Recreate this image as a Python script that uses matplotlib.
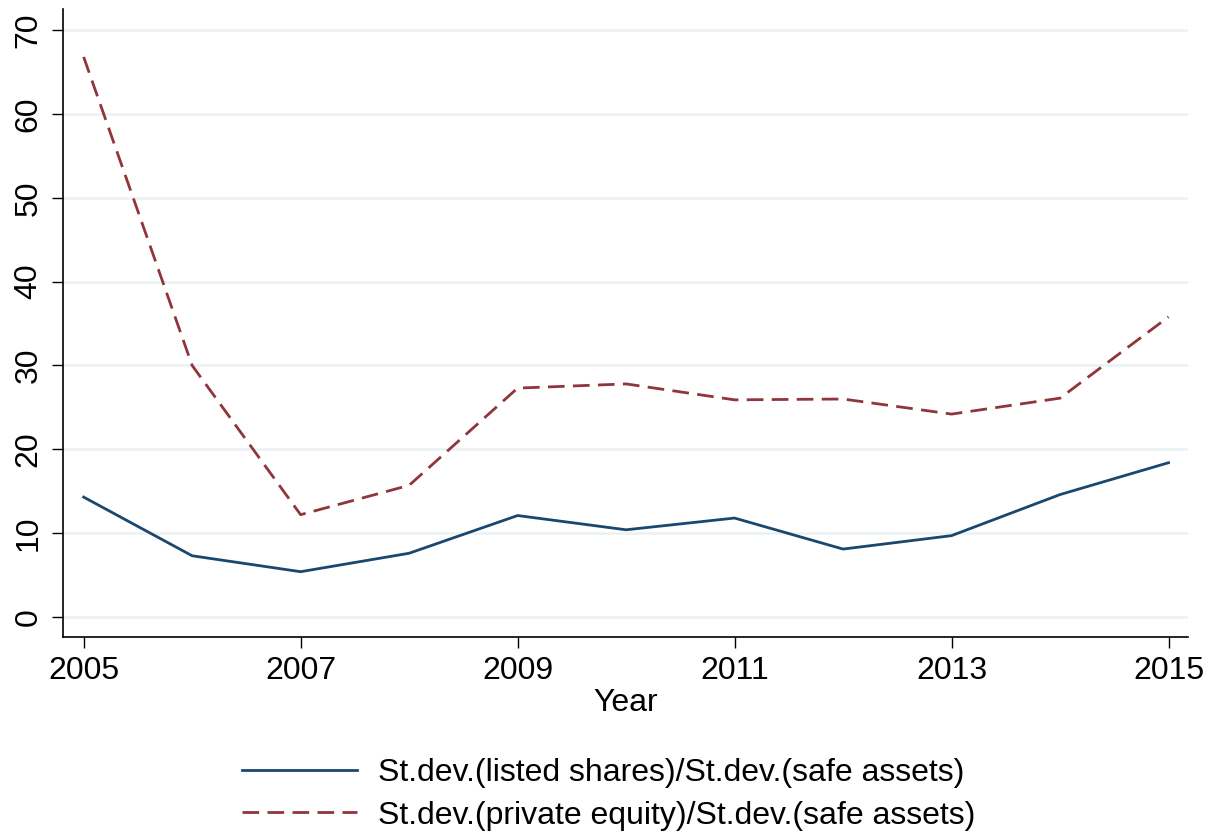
import matplotlib

matplotlib.use("Agg")

import matplotlib.pyplot as plt

# Data
years = [2005, 2006, 2007, 2008, 2009, 2010, 2011, 2012, 2013, 2014, 2015]
listed_shares = [14.3, 7.3, 5.4, 7.6, 12.1, 10.4, 11.8, 8.1, 9.7, 14.6, 18.4]
private_equity = [66.8, 30.0, 12.2, 15.7, 27.3, 27.8, 25.9, 26.0, 24.2, 26.1, 35.8]
xticks = [2005, 2007, 2009, 2011, 2013, 2015]
yticks = [0, 10, 20, 30, 40, 50, 60, 70]

plt.rcParams["font.family"] = ["Liberation Sans", "DejaVu Sans"]
plt.rcParams["font.size"] = 23

fig = plt.figure(figsize=(12.17, 8.34), dpi=100)
ax = fig.add_axes([0.0518, 0.2362, 0.9244, 0.7528])

ax.plot(years, listed_shares, color="#1a476f", lw=2.0,
        label="St.dev.(listed shares)/St.dev.(safe assets)")
ax.plot(years, private_equity, color="#90353b", lw=2.0, dashes=(6, 3),
        label="St.dev.(private equity)/St.dev.(safe assets)")

ax.set_xlim(2004.81, 2015.18)
ax.set_ylim(-2.39, 72.5)
ax.set_xticks(xticks)
ax.set_yticks(yticks)
ax.set_yticklabels([str(v) for v in yticks], rotation=90, va="center")
ax.tick_params(length=8, width=1, color="black", pad=6)

for y in yticks:
    ax.axhline(y, color="#eaf2f3", lw=1.8, zorder=0)

for side in ["top", "right"]:
    ax.spines[side].set_visible(False)
for side in ["left", "bottom"]:
    ax.spines[side].set_linewidth(1.2)

ax.set_xlabel("Year", labelpad=1)

fig.legend(loc="upper center", bbox_to_anchor=(0.5, 0.106), frameon=False,
           handlelength=3.6, handletextpad=0.65, labelspacing=0.38,
           borderaxespad=0)

fig.savefig("out.png", dpi=100)
